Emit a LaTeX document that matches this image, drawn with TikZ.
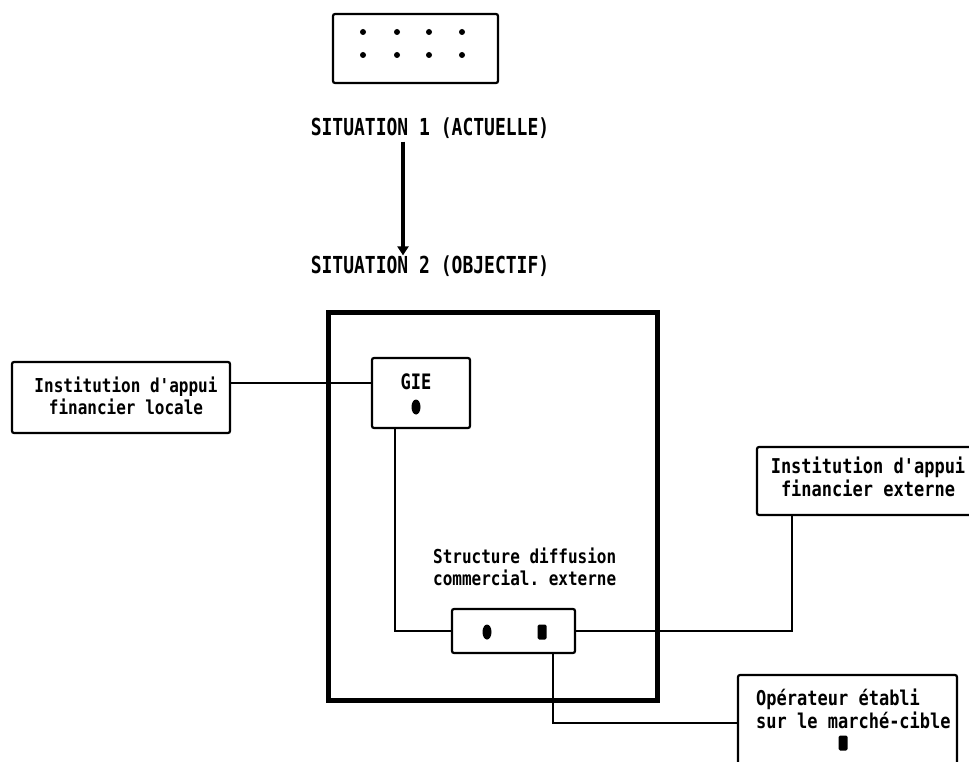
\documentclass[tikz,border=0pt]{standalone}
\usepackage{fontspec}
\usepackage{graphicx}
\setmonofont{DejaVu Sans Mono}
\usetikzlibrary{arrows.meta,shapes.geometric}
\newcommand{\tallL}[1]{\scalebox{1}[1.2]{\begin{tabular}{@{}l@{}}#1\end{tabular}}}
\newcommand{\tallC}[1]{\scalebox{1}[1.2]{\begin{tabular}{@{}c@{}}#1\end{tabular}}}
\begin{document}
\begin{tikzpicture}[x=1pt,y=-1pt,
  box/.style={draw,line width=2.2pt,rounded corners=2pt,inner sep=0pt},
  bigbox/.style={draw,line width=5pt,inner sep=0pt},
  conn/.style={line width=2.2pt},
  txt/.style={font=\ttfamily\bfseries\fontsize{16}{19}\selectfont,inner sep=0pt},
  head/.style={font=\ttfamily\bfseries\fontsize{18}{20}\selectfont,inner sep=0pt},
  dot/.style={circle,fill,inner sep=0pt,minimum size=6pt},
  oval/.style={ellipse,fill,inner sep=0pt,minimum width=9pt,minimum height=15pt},
  sq/.style={rectangle,rounded corners=1.5pt,fill,inner sep=0pt,minimum width=9pt,minimum height=15pt}]
\clip (0,0) rectangle (969,762);
\fill[white] (0,0) rectangle (969,762);
% top box
\node[box,minimum width=165pt,minimum height=69pt] (top) at (415.5,48.5) {};
\foreach \i/\xx in {1/363,2/397,3/429,4/462}{
  \node[dot] (da\i) at (\xx,32) {};
  \node[dot] (db\i) at (\xx,55) {};
}
\node[head] (s1) at (430,128) {\scalebox{1}[1.3]{SITUATION 1 (ACTUELLE)}};
\node[head] (s2) at (430,266) {\scalebox{1}[1.3]{SITUATION 2 (OBJECTIF)}};
\coordinate (ax) at (403,0);
\draw[line width=3.5pt,-{Triangle[width=11pt,length=9pt]}] (s1.south -| ax) ++(0,3) coordinate (a0) -- (s2.north -| ax);
% big frame
\node[bigbox,minimum width=329pt,minimum height=388pt] (big) at (492.5,506) {};
% left box
\node[box,minimum width=218pt,minimum height=71pt] (loc) at (121,397.5) {};
\node[txt] (loct) at (126,399) {\tallC{Institution d'appui\\financier locale}};
% GIE box
\node[box,minimum width=98pt,minimum height=70pt] (gie) at (421,393) {};
\node[head,font=\ttfamily\bfseries\fontsize{17}{20}\selectfont] (giet) at (416,382) {\scalebox{1}[1.25]{GIE}};
\node[oval] (gieo) at (416,407) {};
% small box
\node[box,minimum width=123pt,minimum height=44pt] (sd) at (513.5,631) {};
\node[oval] (sdo) at (487,632) {};
\node[sq] (sds) at (542,632) {};
\node[txt,anchor=west] (sdl) at (433,570) {\tallL{Structure diffusion\\commercial. externe}};
% external financial institution
\node[box,minimum width=230pt,minimum height=68pt] (ext) at (872,481) {};
\node[txt,font=\ttfamily\bfseries\fontsize{17}{19}\selectfont] (extt) at (868,480) {\tallC{Institution d'appui\\financier externe}};
% operator
\node[box,minimum width=219pt,minimum height=120pt] (op) at (847.5,735) {};
\node[txt,font=\ttfamily\bfseries\fontsize{17}{18}\selectfont,anchor=north west] (opt) at (756,689) {\tallL{Opérateur établi\\sur le marché-cible}};
\node[sq] (ops) at (843,743) {};
% connectors
\coordinate (c1) at (0,383);
\draw[conn] (loc.east |- c1) -- (gie.west |- c1);
\coordinate (gx) at (395,0);
\draw[conn] (gie.south -| gx) |- (sd.west);
\coordinate (ex) at (792,0);
\draw[conn] (sd.east) -| (ext.south -| ex);
\coordinate (ox) at (553,723);
\draw[conn] (sd.south -| ox) |- (op.west |- ox);
\end{tikzpicture}
\end{document}
